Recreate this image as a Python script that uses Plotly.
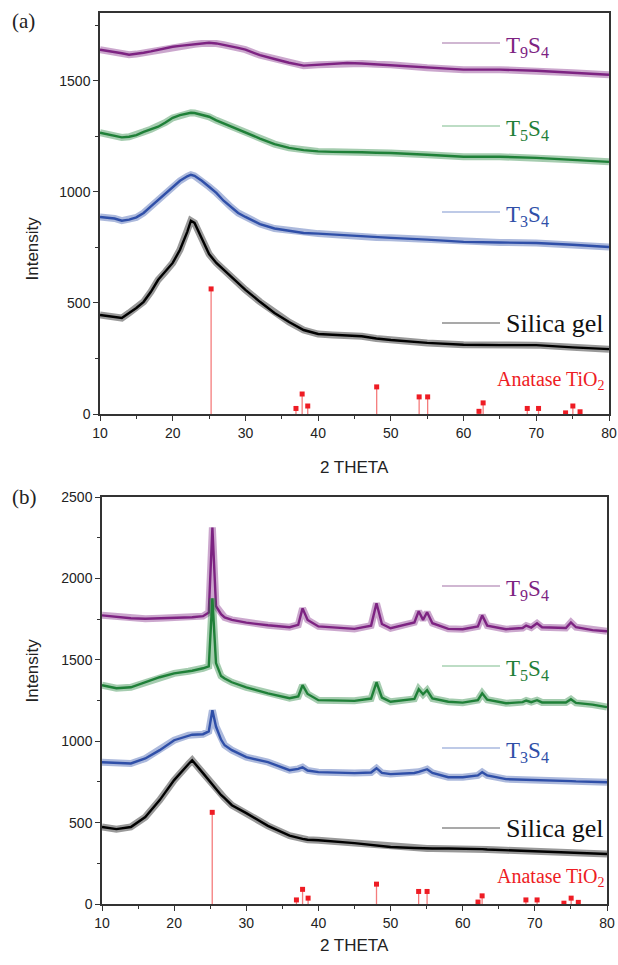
import plotly.graph_objects as go

# ---------------- data: panel (a) ----------------
A_X = [10, 11, 12, 13, 14, 15, 16, 17, 18, 19, 20, 21, 22, 22.5, 23, 24, 25, 26, 27, 28, 29, 30,
       32, 34, 36, 38, 40, 42, 44, 46, 48, 50, 55, 60, 65, 70, 75, 80]
A_SILICA = [446, 441, 437, 432, 455, 477, 505, 550, 604, 640, 680, 739, 820, 870, 860, 790, 720, 680,
            649, 617, 590, 559, 505, 455, 414, 378, 360, 356, 355, 350, 340, 333, 320, 312, 310, 310, 300, 292]
A_T3S4 = [887, 885, 880, 870, 875, 885, 905, 935, 964, 995, 1023, 1050, 1070, 1077, 1072, 1050, 1023,
          995, 960, 932, 905, 887, 855, 835, 825, 815, 812, 808, 802, 798, 795, 793, 785, 775, 772, 770, 762, 752]
A_T5S4 = [1266, 1258, 1250, 1245, 1248, 1255, 1270, 1282, 1293, 1312, 1333, 1345, 1352, 1356, 1355, 1348,
          1338, 1322, 1308, 1293, 1280, 1266, 1240, 1215, 1198, 1188, 1182, 1180, 1180, 1178, 1176, 1175,
          1167, 1158, 1158, 1153, 1144, 1135]
A_T9S4 = [1640, 1635, 1631, 1624, 1617, 1620, 1626, 1632, 1640, 1647, 1653, 1657, 1660, 1662, 1664, 1668,
          1671, 1668, 1662, 1655, 1648, 1640, 1615, 1598, 1581, 1568, 1572, 1576, 1580, 1578, 1574, 1572,
          1559, 1550, 1550, 1545, 1536, 1527]

# ---------------- data: panel (b) ----------------
B_X = [10, 12, 14, 16, 18, 20, 22, 22.5, 24, 24.8, 25.3, 25.8, 26.5, 27, 28, 30, 33, 36, 37.2, 37.8, 38.5,
       40, 45, 47.3, 48.05, 48.8, 50, 53.3, 53.9, 54.5, 55.06, 55.8, 58, 60, 62.1, 62.7, 63.4, 66, 68.3,
       68.8, 69.5, 70.3, 71, 74.3, 75.0, 75.7, 78, 80]
B_T9S4 = [1773, 1765, 1755, 1752, 1755, 1758, 1760, 1761, 1768, 1790, 2313, 1830, 1780, 1760, 1745, 1728,
          1712, 1700, 1715, 1816, 1745, 1705, 1690, 1710, 1847, 1720, 1694, 1730, 1798, 1745, 1792, 1725,
          1690, 1688, 1705, 1773, 1710, 1688, 1695, 1710, 1698, 1724, 1700, 1695, 1730, 1700, 1682, 1675]
B_T5S4 = [1344, 1325, 1331, 1362, 1393, 1417, 1430, 1433, 1448, 1460, 1877, 1480, 1400, 1385, 1362, 1331,
          1294, 1264, 1275, 1344, 1290, 1252, 1248, 1262, 1362, 1268, 1242, 1260, 1319, 1288, 1313, 1262,
          1242, 1237, 1252, 1294, 1255, 1233, 1240, 1250, 1240, 1252, 1238, 1238, 1258, 1235, 1225, 1209]
B_T3S4 = [871, 867, 863, 894, 945, 1006, 1037, 1040, 1043, 1060, 1190, 1090, 1010, 975, 945, 902, 871, 822,
          830, 840, 820, 810, 804, 808, 834, 805, 798, 805, 812, 820, 828, 805, 779, 779, 790, 810, 790,
          767, 765, 765, 763, 762, 760, 756, 755, 753, 750, 748]
B_SILICA = [473, 460, 473, 534, 638, 761, 860, 883, 804, 760, 735, 705, 670, 650, 607, 558, 480, 420, 405,
            400, 395, 392, 374, 362, 360, 356, 350, 344, 343, 342, 341, 341, 341, 341, 338, 337, 335, 330,
            326, 325, 324, 322, 321, 317, 316, 315, 311, 307]

# ---------------- anatase TiO2 reference pattern ----------------
ANATASE_POS = [25.28, 36.95, 37.80, 38.57, 48.05, 53.89, 55.06, 62.12, 62.69, 68.76, 70.31, 74.03, 75.03, 76.02]
ANATASE_INT = [563, 25, 90, 36, 122, 77, 77, 12, 50, 25, 25, 5, 36, 10]

# ---------------- labels ----------------
SERIES_NAMES = ["T<sub>9</sub>S<sub>4</sub>", "T<sub>5</sub>S<sub>4</sub>", "T<sub>3</sub>S<sub>4</sub>", "Silica gel"]
COLORS = ["#7d2382", "#1f8038", "#2f4fa8", "#000000"]
LEG_COLORS = ["#a170a6", "#7dbb8c", "#7f95cf", "#555555"]
TXT_COLORS = ["#7d2382", "#1f8038", "#2f4fa8", "#111111"]
RGB = [(125, 35, 130), (31, 128, 56), (47, 79, 168), (0, 0, 0)]

W, H = 618, 965
fig = go.Figure()


def add_series(x, y, i, xa, ya):
    r, g, b = RGB[i]
    fig.add_trace(go.Scatter(x=x, y=y, mode="lines", line=dict(color=f"rgba({r},{g},{b},0.4)", width=7),
                             xaxis=xa, yaxis=ya, showlegend=False, hoverinfo="skip"))
    fig.add_trace(go.Scatter(x=x, y=y, mode="lines", line=dict(color=COLORS[i], width=2.4),
                             xaxis=xa, yaxis=ya, showlegend=False))


def add_anatase(xa, ya):
    sx, sy = [], []
    for p, v in zip(ANATASE_POS, ANATASE_INT):
        sx += [p, p, None]
        sy += [0, v, None]
    fig.add_trace(go.Scatter(x=sx, y=sy, mode="lines", line=dict(color="rgba(240,80,80,0.75)", width=1.3),
                             xaxis=xa, yaxis=ya, showlegend=False))
    fig.add_trace(go.Scatter(x=ANATASE_POS, y=ANATASE_INT, mode="markers",
                             marker=dict(symbol="square", size=5, color="#ee1c24"),
                             xaxis=xa, yaxis=ya, showlegend=False))


for i, ys in enumerate([A_T9S4, A_T5S4, A_T3S4, A_SILICA]):
    add_series(A_X, ys, i, "x", "y")
add_anatase("x", "y")
for i, ys in enumerate([B_T9S4, B_T5S4, B_T3S4, B_SILICA]):
    add_series(B_X, ys, i, "x2", "y2")
add_anatase("x2", "y2")

tickfont = dict(family="Liberation Sans, Arial", size=14, color="#222")
axcommon = dict(showline=True, linecolor="#333", linewidth=1.5, mirror=True, ticks="outside",
                ticklen=5, tickwidth=1.2, tickcolor="#333", showgrid=False, zeroline=False,
                tickfont=tickfont, automargin=False)
minor = dict(ticks="outside", ticklen=3, tickcolor="#333")


def px_x(p):
    return p / W


def px_y(p):
    return 1 - p / H


fig.update_layout(
    width=W, height=H, margin=dict(l=0, r=0, t=0, b=0, autoexpand=False),
    paper_bgcolor="white", plot_bgcolor="white",
    xaxis=dict(domain=[px_x(100), px_x(609)], range=[10, 80], dtick=10, anchor="y",
               minor=dict(dtick=5, **minor), **axcommon),
    yaxis=dict(domain=[px_y(414), px_y(13)], range=[0, 1805], dtick=500, anchor="x",
               minor=dict(dtick=250, **minor), **axcommon),
    xaxis2=dict(domain=[px_x(102), px_x(607)], range=[10, 80], dtick=10, anchor="y2",
                minor=dict(dtick=5, **minor), **axcommon),
    yaxis2=dict(domain=[px_y(904), px_y(497)], range=[0, 2500], dtick=500, anchor="x2",
                minor=dict(dtick=250, **minor), **axcommon),
)

ann = []
shapes = []
serif = "Liberation Serif, Times New Roman, serif"
sans = "Liberation Sans, Arial"

ann.append(dict(x=px_x(10), y=px_y(21), text="(a)", showarrow=False, xanchor="left", yanchor="middle",
                font=dict(family=serif, size=21, color="#222"), xref="paper", yref="paper"))
ann.append(dict(x=px_x(10), y=px_y(497), text="(b)", showarrow=False, xanchor="left", yanchor="middle",
                font=dict(family=serif, size=21, color="#222"), xref="paper", yref="paper"))
for yc in (215, 705):
    ann.append(dict(x=px_x(20), y=px_y(yc), text="Intensity", showarrow=False, textangle=-90,
                    font=dict(family=sans, size=17, color="#222"), xref="paper", yref="paper"))
for yc in (467, 957):
    ann.append(dict(x=px_x(354), y=px_y(yc), text="2 THETA", showarrow=False,
                    font=dict(family=sans, size=17, color="#222"), xref="paper", yref="paper"))

LEG_A = [43, 126, 212, 323]
LEG_B = [586, 666, 748, 828]
for legys in (LEG_A, LEG_B):
    for i, yy in enumerate(legys):
        shapes.append(dict(type="line", xref="paper", yref="paper", x0=px_x(442), x1=px_x(500),
                           y0=px_y(yy), y1=px_y(yy), line=dict(color=LEG_COLORS[i], width=1.2)))
        ann.append(dict(x=px_x(504), y=px_y(yy + (4 if i < 3 else 0)), text=SERIES_NAMES[i], showarrow=False,
                        xanchor="left", yanchor="middle",
                        font=dict(family=serif, size=(23 if i < 3 else 26), color=TXT_COLORS[i]),
                        xref="paper", yref="paper"))
for yy in (380, 877):
    ann.append(dict(x=px_x(607), y=px_y(yy), text="Anatase TiO<sub>2</sub>", showarrow=False,
                    xanchor="right", yanchor="middle",
                    font=dict(family=serif, size=20, color="#ee1c24"), xref="paper", yref="paper"))

fig.update_layout(annotations=ann, shapes=shapes)
fig.write_html("out.html", config={"displayModeBar": False},
               post_script="document.body.style.margin='0';document.body.style.overflow='hidden';")
